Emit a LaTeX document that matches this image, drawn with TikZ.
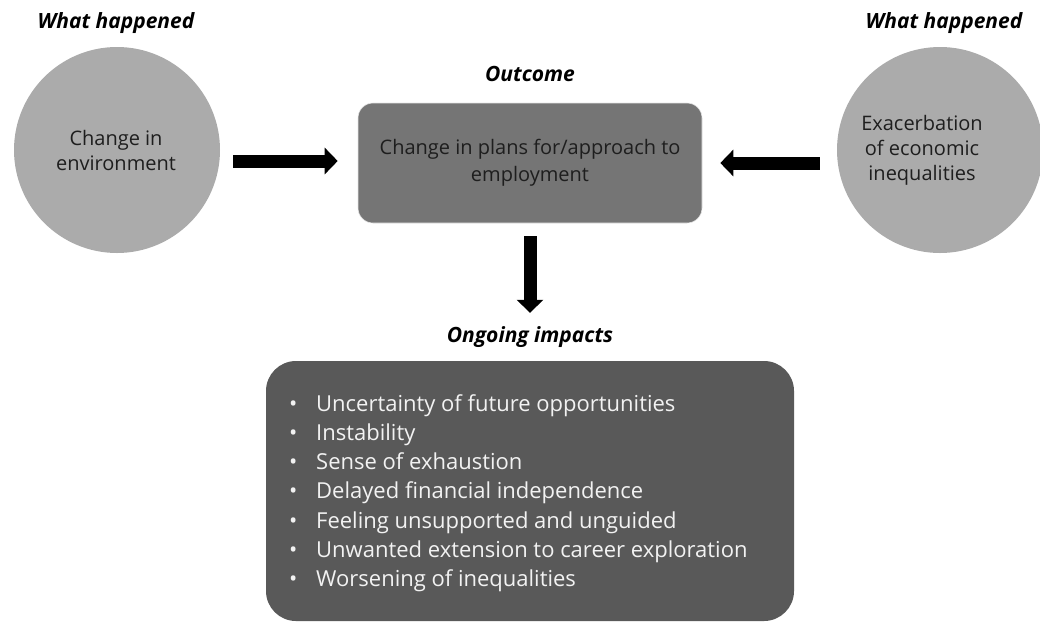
\documentclass[tikz,border=0pt]{standalone}
\usepackage{fontspec}
\setmainfont{Open Sans}
\usetikzlibrary{arrows.meta}
\definecolor{circfill}{HTML}{ABABAB}
\definecolor{outfill}{HTML}{757575}
\definecolor{impfill}{HTML}{595959}
\definecolor{darktext}{HTML}{1E1E1E}
\definecolor{lighttext}{HTML}{F2F2F2}
\tikzset{
  heading/.style={font=\fontsize{21}{24}\selectfont\bfseries\itshape, text=black, inner sep=0pt},
  eventcircle/.style={circle, fill=circfill, minimum size=#1, inner sep=0pt},
  circtext/.style={align=center, font=\fontsize{20}{25}\selectfont, text=darktext, inner sep=0pt},
  outbox/.style={rectangle, rounded corners=15pt, fill=outfill, draw=black!10, line width=0.6pt,
                 minimum width=344pt, minimum height=120pt, align=center,
                 font=\fontsize{20}{27}\selectfont, text=darktext},
  impbox/.style={rectangle, rounded corners=30pt, fill=impfill, minimum width=528pt, minimum height=260pt},
  bullettext/.style={align=left, font=\fontsize{22}{29.3}\selectfont, text=lighttext, inner sep=0pt},
  bigarrow/.style={line width=13pt, -{Triangle[width=26pt,length=13pt]}, black}
}
\begin{document}
\begin{tikzpicture}[x=1pt,y=-1pt]
\useasboundingbox (0,0) rectangle (1040,622);
% headings
\node[heading] (h1) at (116,23) {What happened};
\node[heading] (h2) at (944,23) {What happened};
\node[heading] (h3) at (530,74) {Outcome};
\node[heading] (h4) at (530,337) {Ongoing impacts};
% circles
\node[eventcircle=206pt] (lc) at (117,150) {};
\node[circtext] (lct) at (116,150) {Change in\\environment};
\node[eventcircle=206pt] (rc) at (940,150) {};
\node[circtext] (rct) at (922,150) {Exacerbation\\of economic\\inequalities};
% outcome
\node[outbox] (ob) at (530,163) {Change in plans for/approach to\\employment};
% impacts
\node[impbox] (ib) at (530,491) {};
\node[bullettext, anchor=north west] (bl) at (289,394) {%
\makebox[27pt][l]{•}Uncertainty of future opportunities\\
\makebox[27pt][l]{•}Instability\\
\makebox[27pt][l]{•}Sense of exhaustion\\
\makebox[27pt][l]{•}Delayed financial independence\\
\makebox[27pt][l]{•}Feeling unsupported and unguided\\
\makebox[27pt][l]{•}Unwanted extension to career exploration\\
\makebox[27pt][l]{•}Worsening of inequalities};
% arrows
\draw[bigarrow] ([xshift=13pt,yshift=-11pt]lc.east) -- ([xshift=-20pt,yshift=2pt]ob.west);
\draw[bigarrow] ([xshift=-17pt,yshift=-13pt]rc.west) -- ([xshift=18pt]ob.east);
\draw[bigarrow] ([yshift=-13pt]ob.south) -- ([yshift=48pt]ib.north);
\end{tikzpicture}
\end{document}
